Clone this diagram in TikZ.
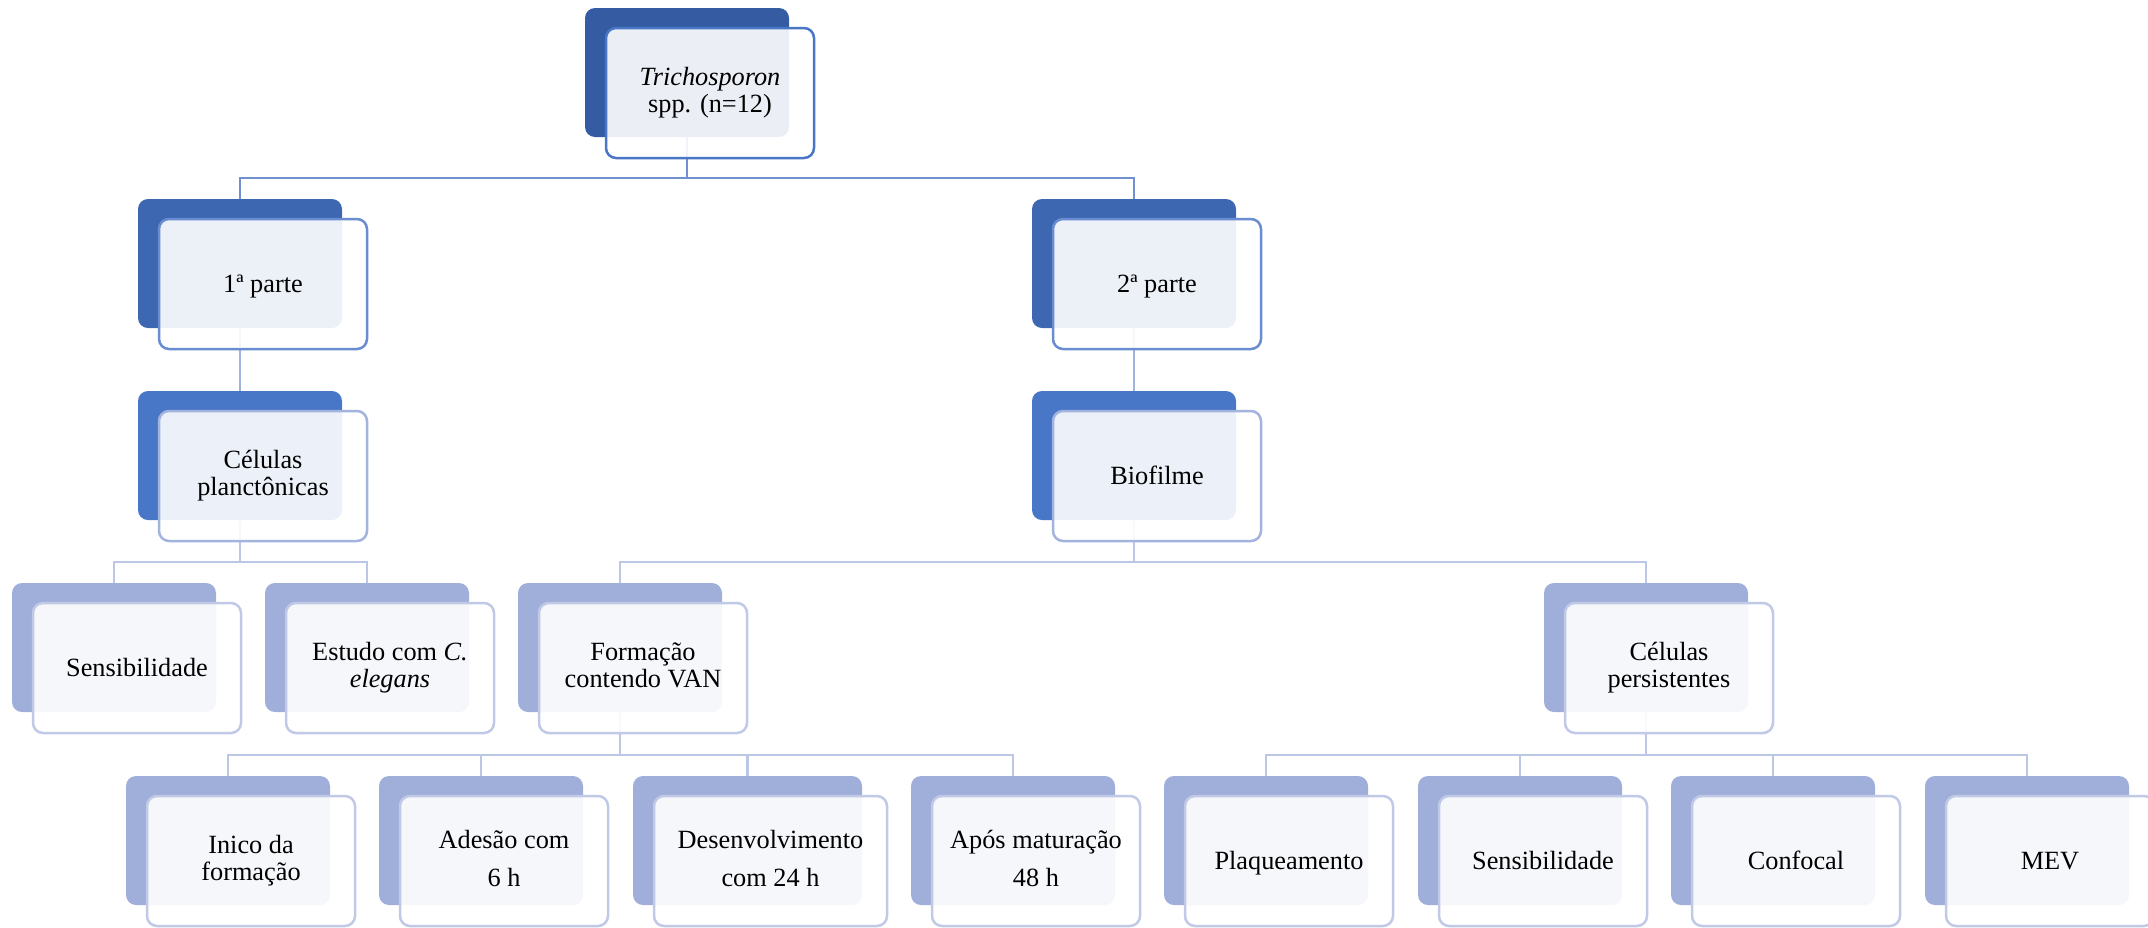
\documentclass[tikz,border=0pt]{standalone}
\usepackage{fontspec}
\setmainfont{Liberation Serif}
\usetikzlibrary{calc,backgrounds}
\definecolor{back0}{HTML}{355CA2}
\definecolor{back1}{HTML}{3E67B1}
\definecolor{back2}{HTML}{4777C6}
\definecolor{back3}{HTML}{A0AFD9}
\definecolor{edge0}{HTML}{4A76C6}
\definecolor{edge1}{HTML}{6A8CD0}
\definecolor{edge2}{HTML}{A2B3DE}
\definecolor{edge3}{HTML}{C0CAE7}
\definecolor{link0}{HTML}{7090D0}
\definecolor{link1}{HTML}{A0B2DE}
\definecolor{link2}{HTML}{BCC7E5}
\newcommand\wordstrut{\rule[-0.216em]{0pt}{1.107em}}
\begin{document}
\begin{tikzpicture}[x=0.5pt,y=-0.5pt,
    back/.style={anchor=north west,inner sep=0pt,outer sep=0pt,minimum width=102pt,minimum height=64.5pt,rounded corners=5pt},
    front/.style={anchor=north west,inner sep=2pt,outer sep=0pt,minimum width=104pt,minimum height=65pt,rounded corners=5pt,
      fill=white,fill opacity=0.9,text opacity=1,line width=1.25pt,align=center,font=\fontsize{13.15}{13.5}\selectfont,
      execute at begin node=\wordstrut,execute at end node=\wordstrut},
    tall/.style={font=\fontsize{13.15}{19}\selectfont},
    wire/.style={line width=1.1pt}]
  \useasboundingbox (0,0) rectangle (2148,927);
  % level 0
  \node[back,fill=back0] (top) at (585,8) {};
  \node[front,draw=edge0] (topf) at ($(top.north west)+(21,20)$) {\textit{Trichosporon}\\spp. (n=12)};
  % level 1
  \node[back,fill=back1] (p1) at (138,199) {};
  \node[front,draw=edge1] (p1f) at ($(p1.north west)+(21,20)$) {1ª parte};
  \node[back,fill=back1] (p2) at (1032,199) {};
  \node[front,draw=edge1] (p2f) at ($(p2.north west)+(21,20)$) {2ª parte};
  % level 2
  \node[back,fill=back2] (cel) at (138,391) {};
  \node[front,draw=edge2] (celf) at ($(cel.north west)+(21,20)$) {Células\\planctônicas};
  \node[back,fill=back2] (bio) at (1032,391) {};
  \node[front,draw=edge2] (biof) at ($(bio.north west)+(21,20)$) {Biofilme};
  % level 3
  \node[back,fill=back3] (sen) at (12,583) {};
  \node[front,draw=edge3] (senf) at ($(sen.north west)+(21,20)$) {Sensibilidade};
  \node[back,fill=back3] (est) at (265,583) {};
  \node[front,draw=edge3] (estf) at ($(est.north west)+(21,20)$) {Estudo com \textit{C.}\\\textit{elegans}};
  \node[back,fill=back3] (van) at (518,583) {};
  \node[front,draw=edge3] (vanf) at ($(van.north west)+(21,20)$) {Formação\\contendo VAN};
  \node[back,fill=back3] (per) at (1544,583) {};
  \node[front,draw=edge3] (perf) at ($(per.north west)+(21,20)$) {Células\\persistentes};
  % level 4
  \node[back,fill=back3] (ini) at (126,776) {};
  \node[front,draw=edge3] (inif) at ($(ini.north west)+(21,20)$) {Inico da\\formação};
  \node[back,fill=back3] (ade) at (379,776) {};
  \node[front,draw=edge3,tall] (adef) at ($(ade.north west)+(21,20)$) {Adesão com\\6 h};
  \node[back,fill=back3,minimum width=114.5pt] (des) at (633,776) {};
  \node[front,draw=edge3,tall,minimum width=116.5pt] (desf) at ($(des.north west)+(21,20)$) {Desenvolvimento\\com 24 h};
  \node[back,fill=back3] (apo) at (911,776) {};
  \node[front,draw=edge3,tall] (apof) at ($(apo.north west)+(21,20)$) {Após maturação\\48 h};
  \node[back,fill=back3] (pla) at (1164,776) {};
  \node[front,draw=edge3] (plaf) at ($(pla.north west)+(21,20)$) {Plaqueamento};
  \node[back,fill=back3] (sns) at (1418,776) {};
  \node[front,draw=edge3] (snsf) at ($(sns.north west)+(21,20)$) {Sensibilidade};
  \node[back,fill=back3] (con) at (1671,776) {};
  \node[front,draw=edge3] (conf) at ($(con.north west)+(21,20)$) {Confocal};
  \node[back,fill=back3] (mev) at (1925,776) {};
  \node[front,draw=edge3] (mevf) at ($(mev.north west)+(21,20)$) {MEV};
  % connectors behind the cards
  \begin{pgfonlayer}{background}
    \foreach \c in {p1,p2} \draw[wire,link0] (\c.north) -- ++(0,-21) -| (top.south);
    \draw[wire,link1] (p1.south) -- (cel.north);
    \draw[wire,link1] (p2.south) -- (bio.north);
    \foreach \c in {sen,est} \draw[wire,link2] (\c.north) -- ++(0,-21) -| (cel.south);
    \foreach \c in {van,per} \draw[wire,link2] (\c.north) -- ++(0,-21) -| (bio.south);
    \foreach \c in {ini,ade,des,apo} \draw[wire,link2] (\c.north) -- ++(0,-21) -| (van.south);
    \foreach \c in {pla,sns,con,mev} \draw[wire,link2] (\c.north) -- ++(0,-21) -| (per.south);
  \end{pgfonlayer}
\end{tikzpicture}
\end{document}
